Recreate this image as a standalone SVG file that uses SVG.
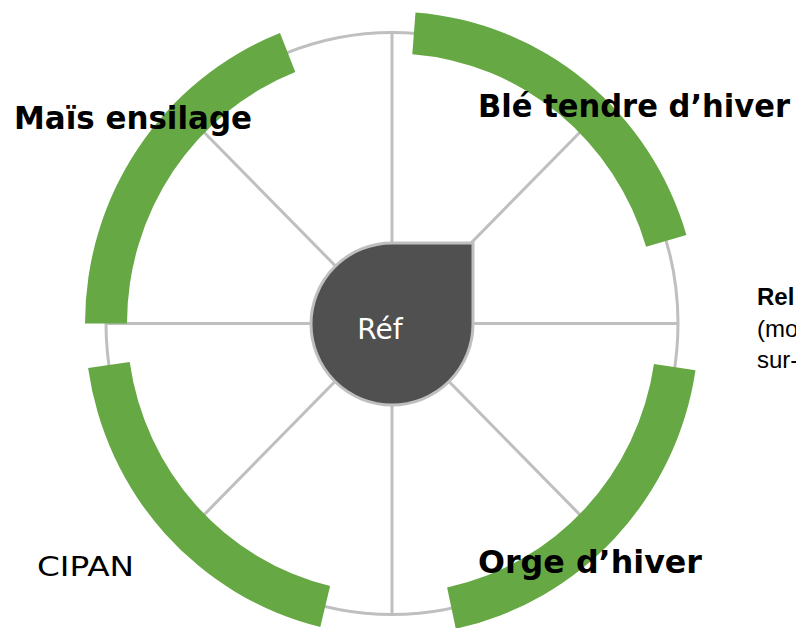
<svg xmlns="http://www.w3.org/2000/svg" width="796" height="628" viewBox="0 0 796 628">
  <style>
    .grid { fill: none; stroke: #BFBFBF; stroke-width: 3; }
    .band { fill: #66A844; stroke: none; }
    .lbl { font-family: "DejaVu Sans", "Liberation Sans", sans-serif; font-weight: bold; font-size: 32px; fill: #000; }
    .plain { font-family: "DejaVu Sans", "Liberation Sans", sans-serif; font-size: 26px; fill: #000; }
    .side { font-family: "Liberation Sans", Arial, sans-serif; font-size: 24px; fill: #000; }
  </style>
  <rect width="796" height="628" fill="#FFFFFF"/>
  <g id="connectors" transform="translate(392,323.5)">
    <ellipse class="grid" cx="0" cy="0" rx="286" ry="291"/>
    <line class="grid" x1="0" y1="0" x2="0" y2="-291"/>
    <line class="grid" x1="0" y1="0" x2="202.2" y2="-205.8"/>
    <line class="grid" x1="0" y1="0" x2="286" y2="0"/>
    <line class="grid" x1="0" y1="0" x2="202.2" y2="205.8"/>
    <line class="grid" x1="0" y1="0" x2="0" y2="291"/>
    <line class="grid" x1="0" y1="0" x2="-202.2" y2="205.8"/>
    <line class="grid" x1="0" y1="0" x2="-286" y2="0"/>
    <line class="grid" x1="0" y1="0" x2="-202.2" y2="-205.8"/>
  </g>
  <g id="ble" transform="translate(392,323.5)">
    <path class="band" d="M23.5,-311.1 A307,312 0 0 1 294.4,-88.6 L254.1,-76.7 A265,270 0 0 0 20.3,-269.2 Z"/>
  </g>
  <g id="orge" transform="translate(392,323.5)">
    <path class="band" d="M303.5,46.7 A307,312 0 0 1 63.8,305.2 L55.1,264.1 A265,270 0 0 0 262.0,40.4 Z"/>
  </g>
  <g id="cipan" transform="translate(392,323.5)">
    <path class="band" d="M-71.7,303.4 A307,312 0 0 1 -303.9,44.5 L-262.3,38.5 A265,270 0 0 0 -61.9,262.5 Z"/>
  </g>
  <g id="mais" transform="translate(392,323.5)">
    <path class="band" d="M-307,0 A307,312 0 0 1 -112.0,-290.5 L-96.7,-251.4 A265,270 0 0 0 -265,0 Z"/>
  </g>
  <g id="ref">
    <path d="M392,243 L473,243 L473,324 A81,81 0 1 1 392,243 Z" fill="#505050" stroke="#BFBFBF" stroke-width="3"/>
    <text x="380" y="339" text-anchor="middle" font-family="DejaVu Sans, sans-serif" font-size="28" fill="#FFFFFF">Réf</text>
  </g>
  <g id="labels">
    <text class="lbl" x="14" y="129" textLength="238" lengthAdjust="spacingAndGlyphs">Maïs ensilage</text>
    <text class="lbl" x="478" y="117" textLength="312" lengthAdjust="spacingAndGlyphs">Blé tendre d’hiver</text>
    <text class="lbl" x="478" y="573" textLength="224" lengthAdjust="spacingAndGlyphs">Orge d’hiver</text>
    <text class="plain" x="37" y="576" textLength="97" lengthAdjust="spacingAndGlyphs">CIPAN</text>
    <text class="side" x="757" y="305" font-weight="bold">Rel</text>
    <text class="side" x="757" y="337">(mo</text>
    <text class="side" x="757" y="368">sur-</text>
  </g>
</svg>
